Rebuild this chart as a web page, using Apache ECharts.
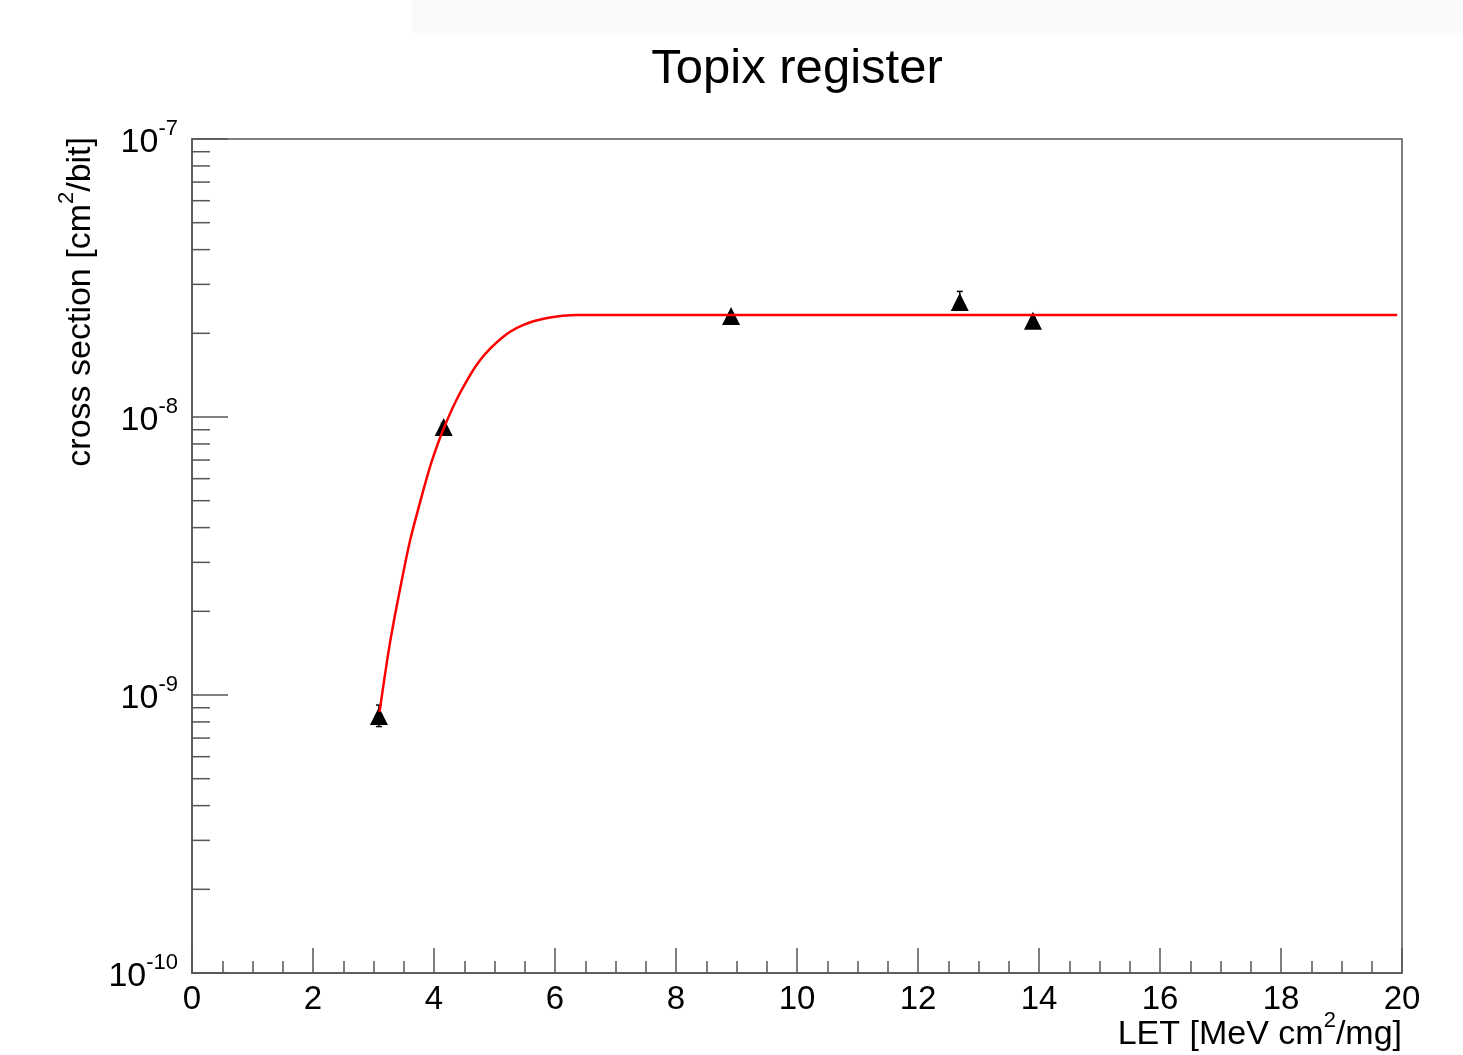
<!DOCTYPE html>
<html>
<head>
<meta charset="utf-8">
<title>Topix register</title>
<script src="https://cdn.jsdelivr.net/npm/echarts@6/dist/echarts.min.js"></script>
<style>
  html, body { margin: 0; padding: 0; background: #fff; }
  #main { width: 1463px; height: 1055px; }
</style>
</head>
<body>
<div id="main"></div>
<script>
// measured points (LET, cross section)
var letValues = [3.09, 4.16, 8.91, 12.69, 13.90];
var xsValues = [8.4e-10, 9.2e-9, 2.31e-8, 2.59e-8, 2.22e-8];
var errLow = [7.7e-10, 8.9e-9, 2.26e-8, 2.47e-8, 2.17e-8];
var errHigh = [9.2e-10, 9.5e-9, 2.36e-8, 2.83e-8, 2.27e-8];

// fit curve
var fitLet = [3.10, 3.27, 3.44, 3.60, 3.80, 3.96, 4.17, 4.43, 4.76, 5.14, 5.47, 5.87, 6.36, 8, 12, 16, 19.92];
var fitXs = [8.69e-10, 1.53e-9, 2.41e-9, 3.56e-9, 5.22e-9, 6.89e-9, 9.2e-9, 1.22e-8, 1.60e-8, 1.94e-8, 2.14e-8, 2.27e-8, 2.33e-8, 2.33e-8, 2.33e-8, 2.33e-8, 2.33e-8];

// y axis minor ticks (log decades)
var decades = [1e-10, 1e-9, 1e-8];
var minorMult = [2, 3, 4, 5, 6, 7, 8, 9];

var FONT = '"Liberation Sans", Arial, sans-serif';

var points = letValues.map(function (x, i) { return [x, xsValues[i]]; });
var fitData = fitLet.map(function (x, i) { return [x, fitXs[i]]; });
var errData = letValues.map(function (x, i) { return [x, errLow[i], errHigh[i]]; });
var minorData = [];
decades.forEach(function (d) {
  minorMult.forEach(function (m) { minorData.push([0, d * m]); });
});

var chart = echarts.init(document.getElementById('main'));

var option = {
  backgroundColor: '#fff',
  animation: false,
  title: {
    text: 'Topix register',
    left: 792,
    top: 40,
    textAlign: 'center',
    textStyle: { fontFamily: FONT, fontSize: 49, fontWeight: 'normal', color: '#000' }
  },
  grid: {
    left: 192, right: 61, top: 139, bottom: 82,
    show: true, borderColor: '#555', borderWidth: 1.5, backgroundColor: 'transparent'
  },
  xAxis: {
    type: 'value',
    min: 0, max: 20, interval: 2,
    axisLine: { show: true, lineStyle: { color: '#555', width: 1.5 } },
    axisTick: { show: true, inside: true, length: 25, lineStyle: { color: '#555', width: 1.5 } },
    minorTick: { show: true, splitNumber: 4, length: 12, lineStyle: { color: '#555', width: 1.5 } },
    splitLine: { show: false },
    axisLabel: { fontFamily: FONT, fontSize: 33, color: '#000', margin: 10 }
  },
  yAxis: {
    type: 'log',
    logBase: 10,
    min: 1e-10, max: 1e-7,
    axisLine: { show: true, lineStyle: { color: '#555', width: 1.5 } },
    axisTick: { show: true, inside: true, length: 36, lineStyle: { color: '#555', width: 1.5 } },
    splitLine: { show: false },
    axisLabel: {
      margin: 14,
      formatter: function (v) {
        var e = Math.round(Math.log10(v));
        return '{b|10}{s|' + e + '}';
      },
      rich: {
        b: { fontFamily: FONT, fontSize: 34, color: '#000', verticalAlign: 'bottom', padding: [8, 0, 0, 0] },
        s: { fontFamily: FONT, fontSize: 22, color: '#000', verticalAlign: 'top' }
      }
    }
  },
  graphic: [
    { type: 'rect', shape: { x: 412, y: 0, width: 1051, height: 33 }, style: { fill: '#fafafc' }, z: -1 },
    {
      type: 'text', x: 77, y: 137, rotation: Math.PI / 2,
      style: {
        text: '{t|cross section [cm}{s|2}{t|/bit]}',
        align: 'right', verticalAlign: 'middle',
        rich: {
          t: { fontFamily: FONT, fontSize: 34, fill: '#000', verticalAlign: 'bottom', padding: [8, 0, 0, 0] },
          s: { fontFamily: FONT, fontSize: 22, fill: '#000', verticalAlign: 'top' }
        }
      }
    },
    {
      type: 'text', x: 1402, y: 1031,
      style: {
        text: '{t|LET [MeV cm}{s|2}{t|/mg]}',
        align: 'right', verticalAlign: 'middle',
        rich: {
          t: { fontFamily: FONT, fontSize: 34, fill: '#000', verticalAlign: 'bottom', padding: [8, 0, 0, 0] },
          s: { fontFamily: FONT, fontSize: 22, fill: '#000', verticalAlign: 'top' }
        }
      }
    }
  ],
  series: [
    {
      // y minor ticks
      type: 'custom',
      silent: true,
      data: minorData,
      z: 3,
      renderItem: function (params, api) {
        var p = api.coord([api.value(0), api.value(1)]);
        return {
          type: 'line',
          shape: { x1: p[0], y1: p[1], x2: p[0] + 18, y2: p[1] },
          style: { stroke: '#555', lineWidth: 1.5 }
        };
      }
    },
    {
      // error bars
      type: 'custom',
      silent: true,
      data: errData,
      z: 4,
      renderItem: function (params, api) {
        var lo = api.coord([api.value(0), api.value(1)]);
        var hi = api.coord([api.value(0), api.value(2)]);
        var c = 3;
        return {
          type: 'group',
          children: [
            { type: 'line', shape: { x1: lo[0], y1: lo[1], x2: hi[0], y2: hi[1] }, style: { stroke: '#000', lineWidth: 1.5 } },
            { type: 'line', shape: { x1: lo[0] - c, y1: lo[1], x2: lo[0] + c, y2: lo[1] }, style: { stroke: '#000', lineWidth: 1.5 } },
            { type: 'line', shape: { x1: hi[0] - c, y1: hi[1], x2: hi[0] + c, y2: hi[1] }, style: { stroke: '#000', lineWidth: 1.5 } }
          ]
        };
      }
    },
    {
      type: 'scatter',
      data: points,
      symbol: 'triangle',
      symbolSize: [18, 18],
      itemStyle: { color: '#000', opacity: 1 },
      z: 5
    },
    {
      type: 'line',
      data: fitData,
      showSymbol: false,
      smooth: 0.3,
      lineStyle: { color: '#ff0000', width: 2.5 },
      z: 6
    }
  ]
};

chart.setOption(option);
</script>
</body>
</html>
